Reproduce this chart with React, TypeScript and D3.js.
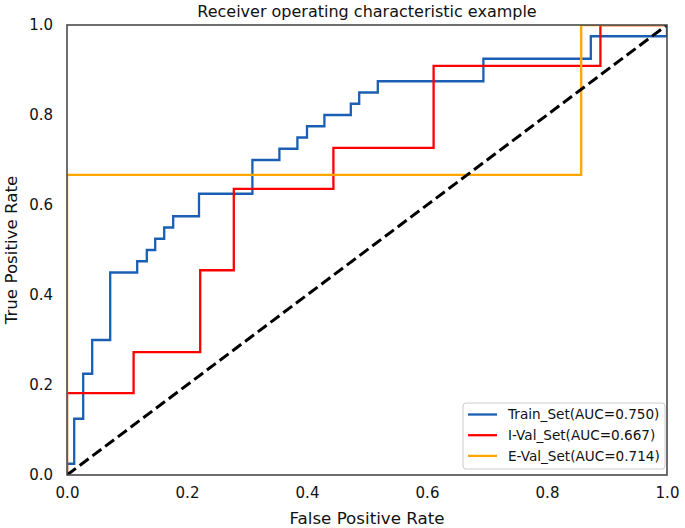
import { useEffect, useRef } from "react";
import * as d3 from "d3";

// ROC points (fpr, tpr corners of each step)
const trainFpr = [0, 0, 0.012, 0.012, 0.027, 0.027, 0.042, 0.042, 0.072, 0.072, 0.117, 0.117, 0.133, 0.133, 0.147, 0.147, 0.162, 0.162, 0.177, 0.177, 0.22, 0.22, 0.309, 0.309, 0.354, 0.354, 0.384, 0.384, 0.4, 0.4, 0.429, 0.429, 0.473, 0.473, 0.487, 0.487, 0.518, 0.518, 0.694, 0.694, 0.873, 0.873, 1, 1];
const trainTpr = [0, 0.025, 0.025, 0.125, 0.125, 0.225, 0.225, 0.3, 0.3, 0.45, 0.45, 0.475, 0.475, 0.5, 0.5, 0.525, 0.525, 0.55, 0.55, 0.575, 0.575, 0.625, 0.625, 0.7, 0.7, 0.725, 0.725, 0.75, 0.75, 0.775, 0.775, 0.8, 0.8, 0.825, 0.825, 0.85, 0.85, 0.875, 0.875, 0.925, 0.925, 0.975, 0.975, 1];

const ivalFpr = [0, 0, 0.111, 0.111, 0.222, 0.222, 0.278, 0.278, 0.444, 0.444, 0.611, 0.611, 0.889, 0.889, 1];
const ivalTpr = [0, 0.182, 0.182, 0.273, 0.273, 0.455, 0.455, 0.636, 0.636, 0.727, 0.727, 0.909, 0.909, 1, 1];

const evalFpr = [0, 0, 0.857, 0.857, 1];
const evalTpr = [0, 0.667, 0.667, 1, 1];

const seriesNames = ["Train_Set(AUC=0.750)", "I-Val_Set(AUC=0.667)", "E-Val_Set(AUC=0.714)"];
const seriesColors = ["#1a5fb4", "#ff0000", "#ffa500"];
const ticks = [0, 0.2, 0.4, 0.6, 0.8, 1.0];

const W = 685;
const H = 528;
const FONT = "DejaVu Sans, sans-serif";

export default function App() {
  const svgRef = useRef<SVGSVGElement>(null);

  useEffect(() => {
    if (!svgRef.current) return;
    const svg = d3.select(svgRef.current);
    svg.selectAll("*").remove();

    const margin = { top: 25, right: 18, bottom: 53, left: 67 };
    const iw = W - margin.left - margin.right;
    const ih = H - margin.top - margin.bottom;

    const x = d3.scaleLinear().domain([0, 1]).range([0, iw]);
    const y = d3.scaleLinear().domain([0, 1]).range([ih, 0]);

    svg.append("rect").attr("width", W).attr("height", H).attr("fill", "#fff");

    const g = svg.append("g").attr("transform", `translate(${margin.left},${margin.top})`);

    svg.append("defs").append("clipPath").attr("id", "plot-clip")
      .append("rect").attr("width", iw).attr("height", ih);

    const plot = g.append("g").attr("clip-path", "url(#plot-clip)");

    const line = d3.line<[number, number]>().x((d) => x(d[0])).y((d) => y(d[1]));
    const series = [
      d3.zip(trainFpr, trainTpr) as [number, number][],
      d3.zip(ivalFpr, ivalTpr) as [number, number][],
      d3.zip(evalFpr, evalTpr) as [number, number][],
    ];
    series.forEach((pts, i) => {
      plot.append("path")
        .attr("d", line(pts))
        .attr("fill", "none")
        .attr("stroke", seriesColors[i])
        .attr("stroke-width", 2.3);
    });

    // chance diagonal
    plot.append("path")
      .attr("d", line([[0, 0], [1, 1]]))
      .attr("fill", "none")
      .attr("stroke", "#000")
      .attr("stroke-width", 3)
      .attr("stroke-dasharray", "11.1,4.8");

    // axes (labels only, no tick marks)
    const xAxis = g.append("g")
      .attr("transform", `translate(0,${ih})`)
      .call(d3.axisBottom(x).tickValues(ticks).tickSize(0).tickPadding(12).tickFormat(d3.format(".1f")));
    const yAxis = g.append("g")
      .call(d3.axisLeft(y).tickValues(ticks).tickSize(0).tickPadding(14).tickFormat(d3.format(".1f")));
    [xAxis, yAxis].forEach((a) => {
      a.select(".domain").remove();
      a.selectAll("text")
        .attr("fill", "#111")
        .style("font-family", FONT)
        .style("font-size", "15px");
    });

    // spines
    g.append("rect")
      .attr("width", iw).attr("height", ih)
      .attr("fill", "none")
      .attr("stroke", "#4a4a4a")
      .attr("stroke-width", 1.6);

    // title & labels
    svg.append("text")
      .attr("x", margin.left + iw / 2).attr("y", 17)
      .attr("text-anchor", "middle")
      .style("font-family", FONT).style("font-size", "16px")
      .attr("fill", "#111")
      .text("Receiver operating characteristic example");
    svg.append("text")
      .attr("x", margin.left + iw / 2).attr("y", 524)
      .attr("text-anchor", "middle")
      .style("font-family", FONT).style("font-size", "16.7px")
      .attr("fill", "#111")
      .text("False Positive Rate");
    svg.append("text")
      .attr("transform", `translate(17,${margin.top + ih / 2}) rotate(-90)`)
      .attr("text-anchor", "middle")
      .style("font-family", FONT).style("font-size", "16.7px")
      .attr("fill", "#111")
      .text("True Positive Rate");

    // legend
    const lg = svg.append("g").attr("transform", "translate(463,403)");
    lg.append("rect")
      .attr("width", 202).attr("height", 66).attr("rx", 3)
      .attr("fill", "#fff").attr("fill-opacity", 0.85)
      .attr("stroke", "#cccccc").attr("stroke-width", 1);
    seriesNames.forEach((name, i) => {
      const cy = 11.5 + i * 20.7;
      lg.append("line")
        .attr("x1", 5).attr("x2", 34).attr("y1", cy).attr("y2", cy)
        .attr("stroke", seriesColors[i]).attr("stroke-width", 2.3);
      lg.append("text")
        .attr("x", 45).attr("y", cy).attr("dy", "0.36em")
        .style("font-family", FONT).style("font-size", "13.6px")
        .attr("fill", "#111")
        .text(name);
    });

    return () => {
      svg.selectAll("*").remove();
    };
  }, []);

  return (
    <svg
      ref={svgRef}
      width={W}
      height={H}
      style={{ position: "absolute", left: 0, top: 0 }}
    />
  );
}
